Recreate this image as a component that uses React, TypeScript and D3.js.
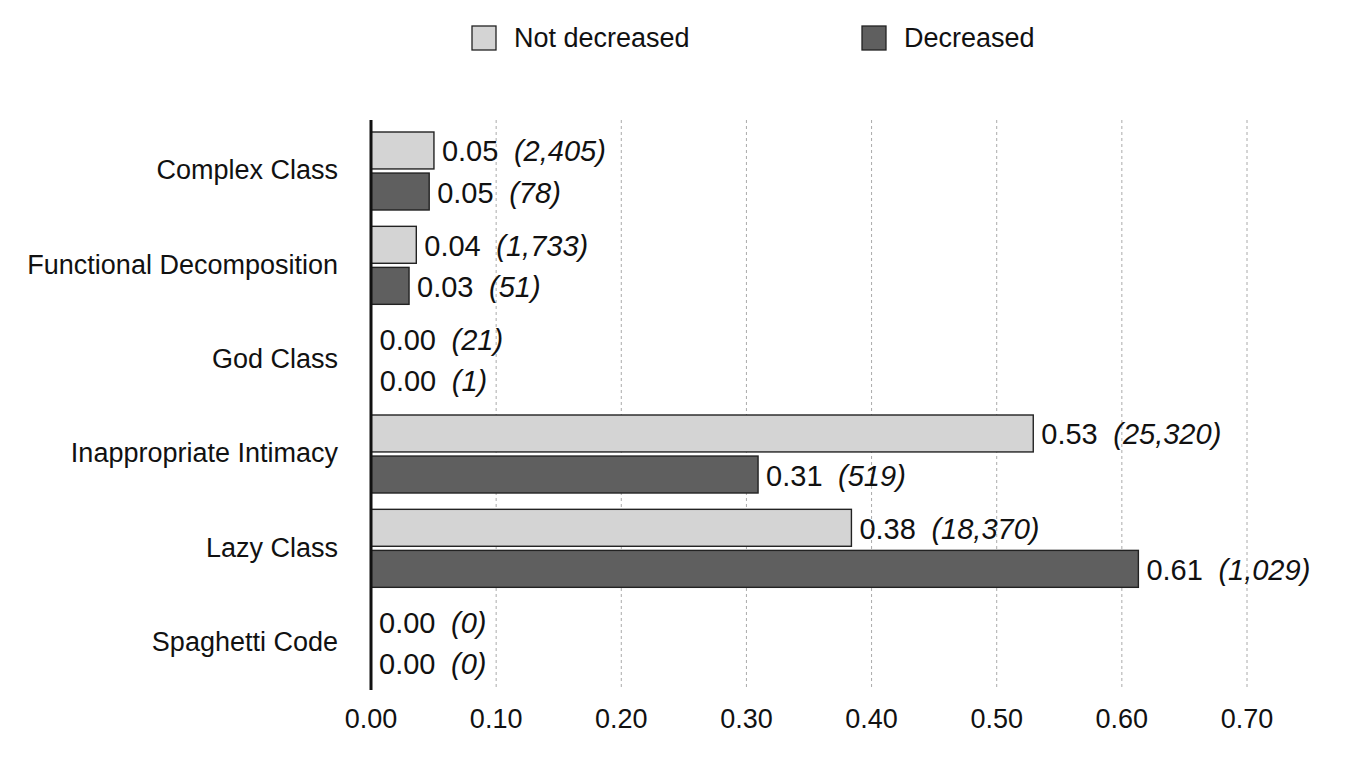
import React, { useEffect } from "react";
import * as d3 from "d3";

const categories = [
  "Complex Class",
  "Functional Decomposition",
  "God Class",
  "Inappropriate Intimacy",
  "Lazy Class",
  "Spaghetti Code",
];
const seriesNames = ["Not decreased", "Decreased"];
const notDecreased = [0.0503, 0.0362, 0.0004, 0.5292, 0.3839, 0];
const decreased = [0.0465, 0.0304, 0.0006, 0.3093, 0.6132, 0];
const notDecreasedCounts = ["2,405", "1,733", "21", "25,320", "18,370", "0"];
const decreasedCounts = ["78", "51", "1", "519", "1,029", "0"];
const xTicks = [0, 0.1, 0.2, 0.3, 0.4, 0.5, 0.6, 0.7];

const colors = ["#d4d4d4", "#5f5f5f"];
const font = "'Liberation Sans', Arial, Helvetica, sans-serif";

export default function App() {
  useEffect(() => {
    document.body.style.margin = "0";
  }, []);

  const width = 1356;
  const height = 758;

  const x = d3.scaleLinear().domain([0, 0.7]).range([371, 1247]);
  const y0 = d3.scaleBand<string>().domain(categories).range([122, 688]);
  const y1 = d3
    .scaleBand<string>()
    .domain(seriesNames)
    .range([10, 88])
    .paddingInner(0.1);

  const series = [
    { name: seriesNames[0], values: notDecreased, counts: notDecreasedCounts },
    { name: seriesNames[1], values: decreased, counts: decreasedCounts },
  ];

  return (
    <svg width={width} height={height} style={{ display: "block", fontFamily: font }}>
      <rect width={width} height={height} fill="#fff" />

      {/* legend */}
      {seriesNames.map((name, i) => {
        const lx = i === 0 ? 472 : 862;
        return (
          <g key={name}>
            <rect x={lx} y={26} width={24} height={24} fill={colors[i]} stroke="#222" strokeWidth={1.3} />
            <text x={lx + 42} y={47} fontSize={27} fill="#111">
              {name}
            </text>
          </g>
        );
      })}

      {/* grid */}
      {xTicks.slice(1).map((t) => (
        <line
          key={t}
          x1={x(t)}
          x2={x(t)}
          y1={120}
          y2={690}
          stroke="#aaa"
          strokeWidth={1}
          strokeDasharray="3,3"
        />
      ))}

      {/* tick labels */}
      {xTicks.map((t) => (
        <text key={t} x={x(t)} y={728} textAnchor="middle" fontSize={27} fill="#111">
          {t.toFixed(2)}
        </text>
      ))}

      {/* category labels */}
      {categories.map((c) => (
        <text
          key={c}
          x={338}
          y={y0(c)! + y0.bandwidth() / 2 + 10}
          textAnchor="end"
          fontSize={27}
          fill="#111"
        >
          {c}
        </text>
      ))}

      {/* bars */}
      {categories.map((c, ci) => (
        <g key={c} transform={`translate(0,${y0(c)})`}>
          {series.map((s, si) => {
            const v = s.values[ci];
            const by = y1(s.name)!;
            const bh = y1.bandwidth();
            const labelX = x(v) + 8;
            return (
              <g key={s.name}>
                {v > 0.001 && (
                  <rect
                    x={x(0)}
                    y={by}
                    width={x(v) - x(0)}
                    height={bh}
                    fill={colors[si]}
                    stroke="#222"
                    strokeWidth={1.4}
                  />
                )}
                <text x={labelX} y={by + bh / 2 + 11} fontSize={29} fill="#111">
                  {v.toFixed(2)}
                </text>
                <text
                  x={labelX + 72}
                  y={by + bh / 2 + 11}
                  fontSize={29}
                  fontStyle="italic"
                  fill="#111"
                >
                  ({s.counts[ci]})
                </text>
              </g>
            );
          })}
        </g>
      ))}

      {/* y axis line */}
      <line x1={371} x2={371} y1={120} y2={690} stroke="#111" strokeWidth={3} />
    </svg>
  );
}
